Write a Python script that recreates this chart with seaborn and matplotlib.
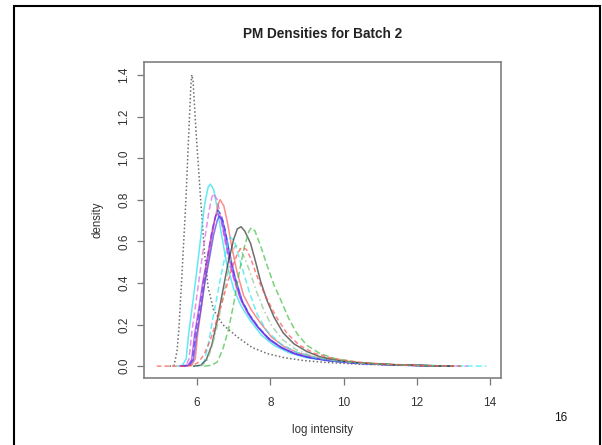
import matplotlib
matplotlib.use("Agg")
import matplotlib.pyplot as plt
import pandas as pd
import seaborn as sns
from matplotlib.patches import Rectangle

# ---------------- data ----------------
title = "PM Densities for Batch 2"
x_label = "log intensity"
y_label = "density"
x_ticks = [6, 8, 10, 12, 14]
y_ticks = [0.0, 0.2, 0.4, 0.6, 0.8, 1.0, 1.2, 1.4]
page_number = "16"

# s1: black dotted
x_s1 = [5.25, 5.37, 5.45, 5.5, 5.58, 5.65, 5.70, 5.775, 5.83, 5.856, 5.89, 5.97, 6.09, 6.2, 6.3, 6.45,
        6.7, 7.1, 7.5, 7.92, 8.4, 8.91, 9.5, 10.5, 11.5, 12.5]
y_s1 = [0.0, 0.003, 0.07, 0.17, 0.42, 0.65, 0.82, 1.13, 1.35, 1.40, 1.37, 1.13, 0.82, 0.55, 0.38, 0.27,
        0.2, 0.14, 0.09, 0.06, 0.04, 0.027, 0.018, 0.009, 0.004, 0.001]
# s2: cyan solid
x_s2 = [5.45, 5.6, 5.7, 5.78, 5.9, 6.0, 6.1, 6.2, 6.3, 6.36, 6.45, 6.55, 6.65, 6.8, 7.0, 7.2, 7.45,
        7.75, 8.1, 8.5, 9.0, 9.7, 10.5, 11.5, 12.5, 13.0]
y_s2 = [0.0, 0.004, 0.035, 0.17, 0.33, 0.47, 0.62, 0.77, 0.86, 0.875, 0.85, 0.76, 0.65, 0.5, 0.37, 0.29,
        0.22, 0.15, 0.1, 0.065, 0.04, 0.024, 0.013, 0.006, 0.002, 0.0]
# s3: magenta dashed
x_s3 = [5.5, 5.7, 5.78, 5.86, 5.98, 6.08, 6.2, 6.32, 6.4, 6.45, 6.55, 6.65, 6.75, 6.9, 7.1, 7.3, 7.55,
        7.85, 8.2, 8.6, 9.0, 9.5, 10.2, 11.2, 12.3, 13.4]
y_s3 = [0.0, 0.004, 0.035, 0.17, 0.32, 0.45, 0.6, 0.74, 0.81, 0.83, 0.8, 0.71, 0.61, 0.48, 0.36, 0.28,
        0.21, 0.15, 0.1, 0.066, 0.045, 0.03, 0.016, 0.007, 0.002, 0.0]
# s4: red solid
x_s4 = [5.6, 5.85, 5.95, 6.02, 6.13, 6.23, 6.35, 6.48, 6.58, 6.63, 6.73, 6.83, 6.93, 7.08, 7.27, 7.48,
        7.72, 8.03, 8.36, 8.75, 9.2, 9.7, 10.4, 11.3, 12.4, 13.0]
y_s4 = [0.0, 0.004, 0.035, 0.16, 0.3, 0.43, 0.56, 0.7, 0.78, 0.80, 0.77, 0.69, 0.59, 0.46, 0.34, 0.27,
        0.21, 0.14, 0.096, 0.064, 0.044, 0.028, 0.015, 0.007, 0.002, 0.0]
# s5: blue dashed
x_s5 = [5.55, 5.77, 5.87, 5.95, 6.07, 6.17, 6.29, 6.42, 6.52, 6.57, 6.67, 6.77, 6.87, 7.02, 7.21, 7.42,
        7.66, 7.97, 8.3, 8.67, 9.1, 9.6, 10.3, 11.3, 12.3, 13.0]
y_s5 = [0.0, 0.004, 0.03, 0.15, 0.28, 0.4, 0.53, 0.66, 0.73, 0.75, 0.72, 0.65, 0.55, 0.43, 0.32, 0.25,
        0.19, 0.13, 0.09, 0.06, 0.041, 0.027, 0.015, 0.006, 0.002, 0.0]
# s6: magenta solid
x_s6 = [5.55, 5.75, 5.85, 5.93, 6.05, 6.15, 6.27, 6.4, 6.5, 6.55, 6.65, 6.75, 6.85, 7.0, 7.19, 7.4,
        7.64, 7.95, 8.28, 8.65, 9.0, 9.6, 10.3, 11.3, 12.3, 13.0]
y_s6 = [0.0, 0.004, 0.03, 0.15, 0.28, 0.4, 0.51, 0.64, 0.72, 0.735, 0.71, 0.63, 0.54, 0.43, 0.32, 0.25,
        0.19, 0.13, 0.09, 0.06, 0.043, 0.026, 0.015, 0.006, 0.002, 0.0]
# s7: blue solid
x_s7 = [5.6, 5.8, 5.9, 5.98, 6.1, 6.2, 6.32, 6.45, 6.55, 6.6, 6.7, 6.8, 6.9, 7.05, 7.24, 7.45, 7.7,
        8.0, 8.33, 8.7, 9.1, 9.6, 10.3, 11.3, 12.3, 13.0]
y_s7 = [0.0, 0.004, 0.03, 0.14, 0.27, 0.39, 0.5, 0.63, 0.7, 0.72, 0.7, 0.62, 0.53, 0.42, 0.31, 0.24,
        0.18, 0.125, 0.087, 0.058, 0.04, 0.026, 0.014, 0.006, 0.002, 0.0]
# s8: cyan dashed
x_s8 = [5.9, 6.1, 6.2, 6.3, 6.42, 6.55, 6.67, 6.8, 6.88, 6.92, 7.02, 7.12, 7.25, 7.42, 7.64, 7.9,
        8.28, 8.7, 9.2, 9.8, 10.6, 11.7, 12.8, 13.9]
y_s8 = [0.0, 0.004, 0.025, 0.1, 0.22, 0.34, 0.45, 0.56, 0.61, 0.62, 0.6, 0.54, 0.46, 0.36, 0.25, 0.17,
        0.108, 0.068, 0.042, 0.025, 0.013, 0.005, 0.002, 0.0]
# s9: black solid
x_s9 = [5.9, 6.1, 6.25, 6.4, 6.55, 6.7, 6.85, 7.0, 7.1, 7.2, 7.3, 7.46, 7.6, 7.73, 7.9, 8.1, 8.35,
        8.64, 9.0, 9.36, 9.9, 10.6, 11.5, 12.4, 13.0]
y_s9 = [0.0, 0.004, 0.03, 0.1, 0.22, 0.36, 0.5, 0.61, 0.66, 0.67, 0.65, 0.59, 0.5, 0.41, 0.32, 0.236,
        0.16, 0.108, 0.07, 0.045, 0.026, 0.014, 0.006, 0.002, 0.0]
# s10: green dashed
x_s10 = [6.2, 6.4, 6.55, 6.7, 6.85, 7.0, 7.15, 7.3, 7.42, 7.48, 7.58, 7.75, 7.92, 8.1, 8.28, 8.5, 8.73,
         9.0, 9.36, 9.8, 10.4, 11.2, 12.2, 13.0]
y_s10 = [0.0, 0.004, 0.02, 0.08, 0.17, 0.3, 0.45, 0.58, 0.65, 0.665, 0.65, 0.57, 0.48, 0.39, 0.32, 0.23,
         0.156, 0.1, 0.06, 0.035, 0.018, 0.008, 0.003, 0.0]
# s11: green dot-dash
x_s11 = [5.95, 6.15, 6.28, 6.42, 6.56, 6.7, 6.83, 6.95, 7.03, 7.07, 7.17, 7.3, 7.45, 7.62, 7.82, 8.05,
         8.35, 8.7, 9.1, 9.6, 10.3, 11.2, 12.2, 13.0]
y_s11 = [0.0, 0.004, 0.03, 0.1, 0.2, 0.32, 0.44, 0.54, 0.575, 0.58, 0.565, 0.52, 0.45, 0.36, 0.27, 0.19,
         0.125, 0.08, 0.05, 0.03, 0.016, 0.007, 0.002, 0.0]
# s12: red dashed
x_s12 = [4.9, 5.6, 5.9, 6.05, 6.2, 6.35, 6.5, 6.65, 6.8, 6.95, 7.1, 7.2, 7.25, 7.35, 7.46, 7.62, 7.78,
         7.92, 8.15, 8.46, 8.8, 9.2, 9.7, 10.4, 11.2, 12.2, 13.2]
y_s12 = [0.0, 0.0, 0.004, 0.02, 0.06, 0.12, 0.2, 0.29, 0.38, 0.47, 0.54, 0.568, 0.57, 0.56, 0.52, 0.44,
         0.37, 0.32, 0.24, 0.156, 0.1, 0.062, 0.037, 0.019, 0.009, 0.003, 0.0]

names = ["s1", "s2", "s3", "s4", "s5", "s6", "s7", "s8", "s9", "s10", "s11", "s12"]
xs = [x_s1, x_s2, x_s3, x_s4, x_s5, x_s6, x_s7, x_s8, x_s9, x_s10, x_s11, x_s12]
ys = [y_s1, y_s2, y_s3, y_s4, y_s5, y_s6, y_s7, y_s8, y_s9, y_s10, y_s11, y_s12]

# ---------------- styles ----------------
palette = {"s1": "#303030", "s2": "#20e0f0", "s3": "#e060e0", "s4": "#ff5a5a", "s5": "#3030ff",
           "s6": "#b030e0", "s7": "#4040f0", "s8": "#30e8f0", "s9": "#303030", "s10": "#40c040",
           "s11": "#90c090", "s12": "#ff5050"}
dashes = {"s1": (1, 1.5), "s2": "", "s3": (4, 2), "s4": "", "s5": (4, 2), "s6": "", "s7": "",
          "s8": (4, 2), "s9": "", "s10": (4, 2), "s11": (1, 2, 4, 2), "s12": (3, 2)}

df = pd.concat([pd.DataFrame({"x": x, "y": y, "sample": n}) for n, x, y in zip(names, xs, ys)],
               ignore_index=True)

sns.set_theme(style="white")
plt.rcParams["font.family"] = ["Liberation Sans", "DejaVu Sans"]

W, H = 602, 445
fig = plt.figure(figsize=(W / 100, H / 100), dpi=100)
fig.patch.set_facecolor("white")
L, R, T, B = 144, 501, 62, 378
ax = fig.add_axes([L / W, 1 - B / H, (R - L) / W, (B - T) / H])

sns.lineplot(data=df, x="x", y="y", hue="sample", style="sample", palette=palette, dashes=dashes,
             estimator=None, sort=False, legend=False, ax=ax, linewidth=1.1, alpha=0.7)

ax.set_xlim(4.55, 14.3)
ax.set_ylim(-0.057, 1.462)
ax.set_xticks(x_ticks)
ax.set_xticklabels([str(t) for t in x_ticks])
ax.set_yticks(y_ticks)
ax.set_yticklabels([f"{t:.1f}" for t in y_ticks], rotation=90, va="center")
ax.tick_params(axis="both", direction="out", length=5, width=0.9, color="#777777",
               labelsize=8.5, labelcolor="#333333", bottom=True, left=True)
ax.tick_params(axis="x", pad=8.5)
ax.tick_params(axis="y", pad=5)
for sp in ax.spines.values():
    sp.set_color("#808080")
    sp.set_linewidth(1.2)

ax.set_title(title, fontsize=9.8, fontweight="bold", color="#222222", pad=0,
             y=1 + (T - 34) / (B - T), va="center")
ax.set_xlabel(x_label, fontsize=8.3, color="#333333")
ax.xaxis.set_label_coords(0.5, -(430 - B) / (B - T))
ax.xaxis.label.set_va("center")
ax.set_ylabel(y_label, fontsize=8.3, color="#333333")
ax.yaxis.set_label_coords(-(L - 97) / (R - L), 0.5)
ax.yaxis.label.set_va("center")

fig.text(561 / W, 1 - 418 / H, page_number, fontsize=8.5, ha="center", va="center", color="#111111")

border = Rectangle((13.5 / W, -0.05), (599.5 - 13.5) / W, 1.05 - 6 / H, transform=fig.transFigure,
                   fill=False, lw=1.5, ec="black", clip_on=False)
fig.add_artist(border)

fig.savefig("out.png", dpi=100)
